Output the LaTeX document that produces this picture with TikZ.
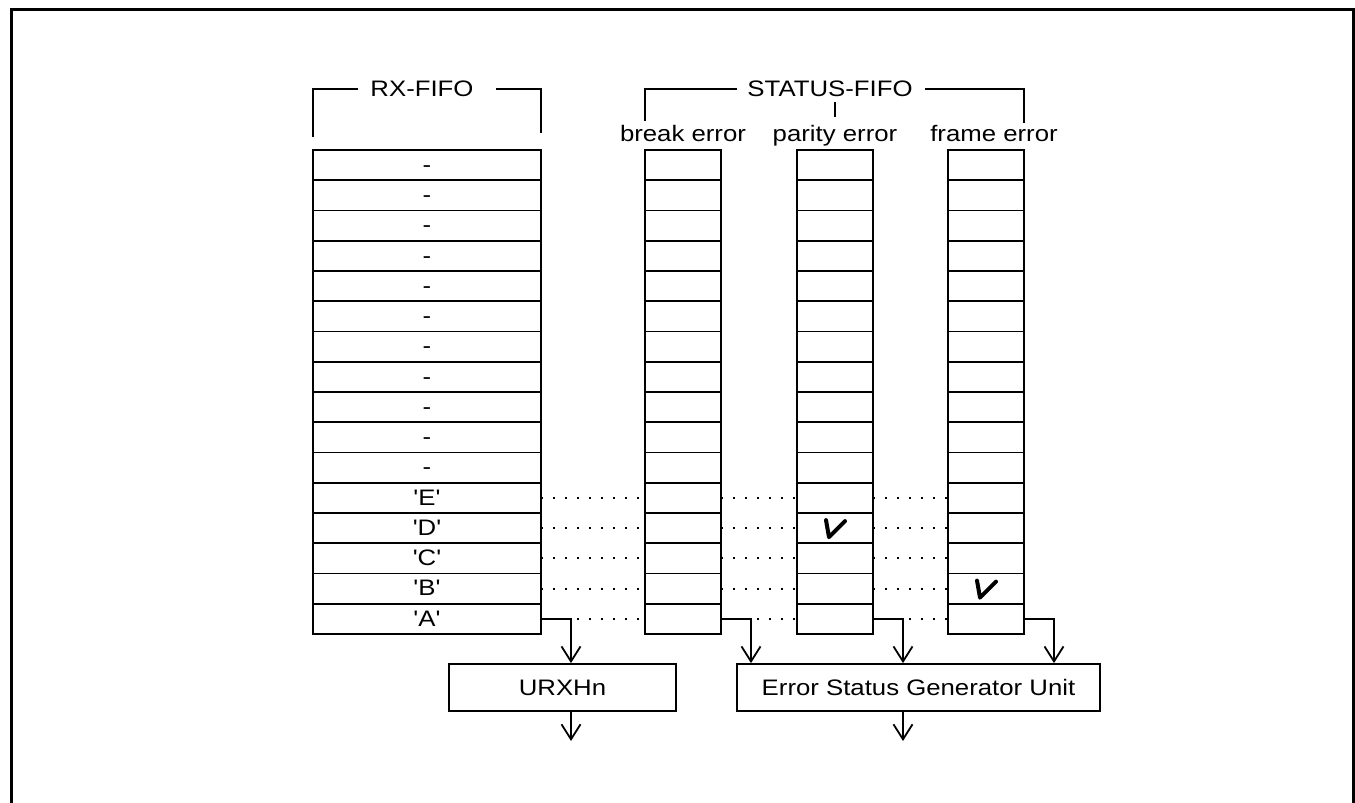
\documentclass[tikz,border=0pt]{standalone}
\usepackage{fontspec}
\setmainfont{Liberation Sans}[FakeStretch=1.15,Ligatures=TeXOff]
\usetikzlibrary{arrows.meta}

\begin{document}
\begin{tikzpicture}[x=0.5pt,y=-0.5pt,line width=0.9pt,
        font=\fontsize{11.2}{13}\selectfont,
        cell/.style={draw, inner sep=0pt, outer sep=0pt, minimum height=15.125pt,
                     text height=0.72em, text depth=0pt},
        unit/.style={draw, inner sep=0pt, minimum height=23.5pt},
        dots/.style={line width=1.1pt, dash pattern=on 1.1pt off 4.9pt},
        arr/.style={-{Straight Barb[length=7.5pt,width=9.5pt]}},
        tick/.style={line width=2pt, line cap=round, line join=round}]
                \useasboundingbox (0,0) rectangle (1355,803);
                % Frame
                \draw[line width=1.5pt] (11,840) -- (11,9.5) -- (1353,9.5) -- (1353,840);

                % Nodes
                \foreach \lbl [count=\i from 0] in {-,-,-,-,-,-,-,-,-,-,-,'E','D','C','B','A'} {
                    \node[cell, minimum width=114pt] (rx\i) at (427,{150+30.25*(\i+0.5)}) {\lbl};
                    \node[cell, minimum width=38pt] (brk\i) at (683,{150+30.25*(\i+0.5)}) {};
                    \node[cell, minimum width=38pt] (par\i) at (835,{150+30.25*(\i+0.5)}) {};
                    \node[cell, minimum width=38pt] (frm\i) at (986,{150+30.25*(\i+0.5)}) {};
                }
                \node[inner sep=0pt] (rxhead) at (422,89) {RX-FIFO};
                \node[inner sep=0pt] (sthead) at (830,89) {STATUS-FIFO};
                \node[anchor=base] (brklbl) at (683,141) {break error};
                \node[anchor=base] (parlbl) at (835,141) {parity error};
                \node[anchor=base] (frmlbl) at (994,141) {frame error};
                \node[unit, minimum width=113.5pt] (urx) at (562.5,687.5) {URXHn};
                \node[unit, minimum width=181.5pt] (esg) at (918.5,687.5) {Error Status Generator Unit};
                \coordinate (urxout) at (571,741);
                \coordinate (esgout) at (903,741);

                % Brackets
                \draw (rx0.north west) ++(0,-13) |- ([xshift=-6pt]rxhead.west);
                \draw ([xshift=11pt]rxhead.east) -| ([yshift=8.5pt]rx0.north east);
                \draw (brk0.north west) ++(0,-29) |- ([xshift=-5pt]sthead.west);
                \draw ([xshift=6pt]sthead.east) -| ([yshift=13.5pt]frm0.north east);
                \draw ([yshift=-2pt]sthead.south -| parlbl.north) -- (parlbl.north);

                % Links
                \foreach \i in {11,...,15} {
                    \draw[dots] (rx\i.east) -- (brk\i.west);
                    \draw[dots] (brk\i.east) -- (par\i.west);
                    \draw[dots] (par\i.east) -- (frm\i.west);
                }
                \draw[tick] ([shift={(-9,-8)}]par12.center) -- ++(3,17) -- ++(16,-16);
                \draw[tick] ([shift={(-9,-8)}]frm14.center) -- ++(3,17) -- ++(16,-16);

                % Edges
                \draw[arr] (rx15.east) -- ++(30,0) coordinate (a1) -- (a1 |- urx.north);
                \draw[arr] (brk15.east) -- ++(30,0) coordinate (a2) -- (a2 |- esg.north);
                \draw[arr] (par15.east) -- ++(30,0) coordinate (a3) -- (a3 |- esg.north);
                \draw[arr] (frm15.east) -- ++(30,0) coordinate (a4) -- (a4 |- esg.north);
                \draw[arr] (urxout |- urx.south) -- (urxout);
                \draw[arr] (esgout |- esg.south) -- (esgout);
            \end{tikzpicture}
\end{document}
